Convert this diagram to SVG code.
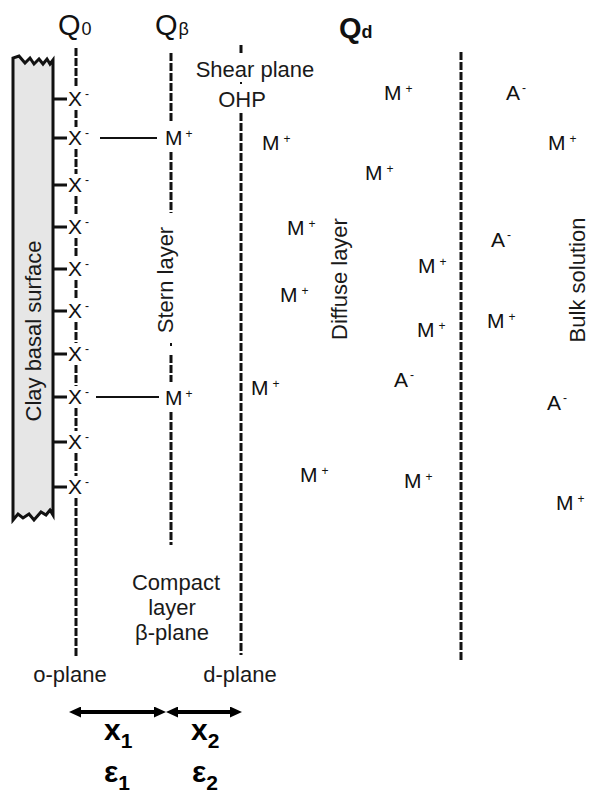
<svg xmlns="http://www.w3.org/2000/svg" width="596" height="798" viewBox="0 0 596 798">
<style>
text{font-family:"Liberation Sans",Arial,sans-serif;fill:#1a1a1a}
.lbl{font-size:22px}
.ion{font-size:21px;fill:#111}
.sup{font-size:12px}
.q{font-size:29px;fill:#111}
.qs{font-size:18px}
.plane{stroke:#111;stroke-width:3;stroke-dasharray:8 2;fill:none}
.tick{stroke:#111;stroke-width:3}
.bond{stroke:#111;stroke-width:2}
.arr{stroke:#000;stroke-width:4;marker-start:url(#ah);marker-end:url(#ah)}
.big{font-size:30px;font-weight:bold;fill:#000}
.sub{font-size:21px;font-weight:bold;fill:#000}
</style>
<defs>
<marker id="ah" markerUnits="userSpaceOnUse" markerWidth="12" markerHeight="11" viewBox="0 0 12 11" refX="2" refY="5.5" orient="auto-start-reverse">
<path d="M0,0 L12,5.5 L0,11 z" fill="#000"/>
</marker>
</defs>
<rect width="596" height="798" fill="#fff"/>

<g id="wall">
<path d="M13,520 L13,58 L19,56 L25,63 L30,58 L34,64 L39,59 L43,64 L47,59 L50,64 L53,60 L53,515 L50,510 L46,515 L41,512 L34,520 L29,514 L23,518 L18,514 L13,520 z" fill="#e6e6e6" stroke="#111" stroke-width="3" stroke-linejoin="miter"/>
<text class="lbl" transform="translate(41,331) rotate(-90)" text-anchor="middle">Clay basal surface</text>
</g>

<g id="planes">
<path class="plane" d="M76,48V88 M76,110V127 M76,149V174 M76,196V216 M76,238V258 M76,280V300 M76,322V343 M76,365V386 M76,408V431 M76,453V476 M76,498V657"/>
<path class="plane" d="M171,53V123 M171,152V213 M171,355V382 M171,412V545"/>
<path d="M171,343V346" stroke="#111" stroke-width="2"/>
<path class="plane" d="M241,45V55 M241,113V655"/>
<path d="M241,82V84" stroke="#111" stroke-width="2"/>
<path class="plane" d="M461,52V660"/>
</g>

<g id="surface-sites">
<path class="tick" d="M53,99H67 M53,138H67 M53,185H67 M53,227H67 M53,269H67 M53,311H67 M53,354H67 M53,397H67 M53,442H67 M53,487H67"/>
<text class="ion" x="68" y="106">X<tspan class="sup" dx="3" dy="-8">-</tspan></text>
<text class="ion" x="68" y="145">X<tspan class="sup" dx="3" dy="-8">-</tspan></text>
<text class="ion" x="68" y="192">X<tspan class="sup" dx="3" dy="-8">-</tspan></text>
<text class="ion" x="68" y="234">X<tspan class="sup" dx="3" dy="-8">-</tspan></text>
<text class="ion" x="68" y="276">X<tspan class="sup" dx="3" dy="-8">-</tspan></text>
<text class="ion" x="68" y="318">X<tspan class="sup" dx="3" dy="-8">-</tspan></text>
<text class="ion" x="68" y="361">X<tspan class="sup" dx="3" dy="-8">-</tspan></text>
<text class="ion" x="68" y="404">X<tspan class="sup" dx="3" dy="-8">-</tspan></text>
<text class="ion" x="68" y="449">X<tspan class="sup" dx="3" dy="-8">-</tspan></text>
<text class="ion" x="68" y="494">X<tspan class="sup" dx="3" dy="-8">-</tspan></text>
</g>

<g id="stern-ions">
<text class="ion" x="165" y="145">M<tspan class="sup" dx="3" dy="-7">+</tspan></text>
<text class="ion" x="165" y="405">M<tspan class="sup" dx="3" dy="-7">+</tspan></text>
</g>

<g id="connectors">
<line class="bond" x1="100" y1="138" x2="157" y2="138"/>
<line class="bond" x1="96" y1="397" x2="159" y2="397"/>
<line class="arr" x1="79" y1="712" x2="156" y2="712"/>
<line class="arr" x1="176" y1="712" x2="232" y2="712"/>
</g>

<g id="diffuse-ions">
<text class="ion" x="384" y="100">M<tspan class="sup" dx="4" dy="-7">+</tspan></text>
<text class="ion" x="262" y="150">M<tspan class="sup" dx="4" dy="-7">+</tspan></text>
<text class="ion" x="365" y="180">M<tspan class="sup" dx="4" dy="-7">+</tspan></text>
<text class="ion" x="287" y="235">M<tspan class="sup" dx="4" dy="-7">+</tspan></text>
<text class="ion" x="418" y="273">M<tspan class="sup" dx="4" dy="-7">+</tspan></text>
<text class="ion" x="280" y="302">M<tspan class="sup" dx="4" dy="-7">+</tspan></text>
<text class="ion" x="417" y="337">M<tspan class="sup" dx="4" dy="-7">+</tspan></text>
<text class="ion" x="251" y="395">M<tspan class="sup" dx="4" dy="-7">+</tspan></text>
<text class="ion" x="394" y="387">A<tspan class="sup" dx="2" dy="-8">-</tspan></text>
<text class="ion" x="300" y="482">M<tspan class="sup" dx="4" dy="-7">+</tspan></text>
<text class="ion" x="404" y="488">M<tspan class="sup" dx="4" dy="-7">+</tspan></text>
</g>

<g id="bulk-ions">
<text class="ion" x="506" y="100">A<tspan class="sup" dx="2" dy="-8">-</tspan></text>
<text class="ion" x="548" y="150">M<tspan class="sup" dx="4" dy="-7">+</tspan></text>
<text class="ion" x="491" y="247">A<tspan class="sup" dx="2" dy="-8">-</tspan></text>
<text class="ion" x="487" y="328">M<tspan class="sup" dx="4" dy="-7">+</tspan></text>
<text class="ion" x="547" y="410">A<tspan class="sup" dx="2" dy="-8">-</tspan></text>
<text class="ion" x="556" y="510">M<tspan class="sup" dx="4" dy="-7">+</tspan></text>
</g>

<g id="charge-labels">
<text class="q" x="58" y="35">Q<tspan class="qs" dx="1">0</tspan></text>
<text class="q" x="155" y="35">Q<tspan class="qs" dx="1">β</tspan></text>
<text class="q" x="339" y="38" font-weight="bold">Q<tspan class="qs" font-weight="bold">d</tspan></text>
</g>

<g id="layer-labels">
<text class="lbl" x="255" y="77" text-anchor="middle">Shear plane</text>
<text class="lbl" x="242" y="107" text-anchor="middle">OHP</text>
<text class="lbl" transform="translate(173,280) rotate(-90)" text-anchor="middle">Stern layer</text>
<text class="lbl" transform="translate(347,279) rotate(-90)" text-anchor="middle">Diffuse layer</text>
<text class="lbl" transform="translate(585,280) rotate(-90)" text-anchor="middle">Bulk solution</text>
<text class="lbl" x="176" y="590" text-anchor="middle">Compact</text>
<text class="lbl" x="172" y="615" text-anchor="middle">layer</text>
<text class="lbl" x="172" y="640" text-anchor="middle">β-plane</text>
<text class="lbl" x="70" y="682" text-anchor="middle">o-plane</text>
<text class="lbl" x="240" y="682" text-anchor="middle">d-plane</text>
</g>

<g id="distance-labels">
<text class="big" x="104" y="740">x<tspan class="sub" dy="8">1</tspan></text>
<text class="big" x="191" y="740">x<tspan class="sub" dy="8">2</tspan></text>
<text class="big" x="104" y="782">ε<tspan class="sub" dy="8">1</tspan></text>
<text class="big" x="192" y="782">ε<tspan class="sub" dy="8">2</tspan></text>
</g>
</svg>
